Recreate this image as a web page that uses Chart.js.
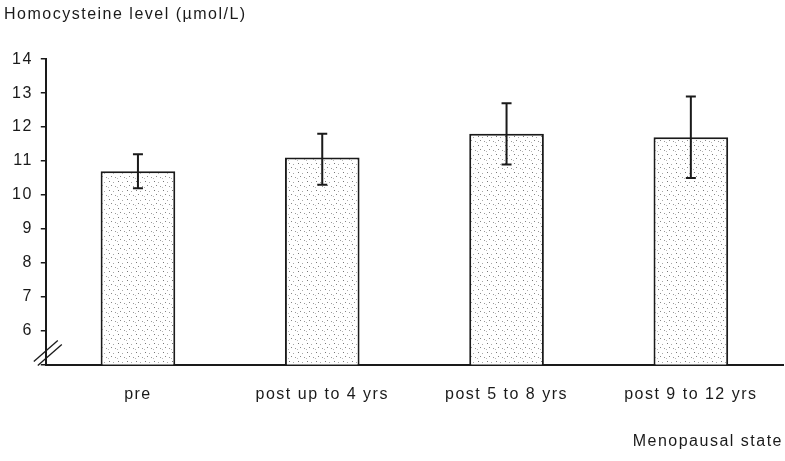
<!DOCTYPE html>
<html>
<head>
<meta charset="utf-8">
<script src="https://cdn.jsdelivr.net/npm/chart.js@4/dist/chart.umd.min.js"></script>
<style>
  html, body { margin: 0; padding: 0; background: #fff; }
  #wrap { width: 785px; height: 461px; position: relative; }
</style>
</head>
<body>
<div id="wrap"><canvas id="homocysteineChart"></canvas></div>
<script>
const categories = ["pre", "post up to 4 yrs", "post 5 to 8 yrs", "post 9 to 12 yrs"];
const meanLevels = [10.7, 11.1, 11.8, 11.7];
const errorLow = [10.2, 10.3, 10.9, 10.5];
const errorHigh = [11.2, 11.8, 12.7, 12.9];
const yTicks = [6, 7, 8, 9, 10, 11, 12, 13, 14];

const FONT = "'Liberation Sans', Arial, sans-serif";
const INK = "#1a1a1a";

// stipple fill like the printed figure
function stipplePattern() {
  const tile = document.createElement("canvas");
  tile.width = 9;
  tile.height = 9;
  const c = tile.getContext("2d");
  c.fillStyle = "#fff";
  c.fillRect(0, 0, 9, 9);
  const dots = [[1, 1, "#777"], [5, 2, "#aaa"], [3, 5, "#888"], [7, 6, "#999"], [0, 7, "#bbb"]];
  dots.forEach(([x, y, col]) => {
    c.fillStyle = col;
    c.fillRect(x, y, 1, 1);
  });
  return c.createPattern(tile, "repeat");
}

// the scanned lettering is set a bit wide
const wideText = {
  id: "wideText",
  beforeLayout(chart) { chart.ctx.letterSpacing = "1.5px"; },
  beforeDraw(chart) { chart.ctx.letterSpacing = "1.5px"; }
};

const errorBars = {
  id: "errorBars",
  afterDatasetsDraw(chart) {
    const { ctx, scales } = chart;
    const meta = chart.getDatasetMeta(0);
    ctx.save();
    ctx.strokeStyle = INK;
    ctx.lineWidth = 2;
    meta.data.forEach((bar, i) => {
      const top = scales.y.getPixelForValue(errorHigh[i]);
      const bottom = scales.y.getPixelForValue(errorLow[i]);
      ctx.beginPath();
      ctx.moveTo(bar.x, top);
      ctx.lineTo(bar.x, bottom);
      ctx.moveTo(bar.x - 5, top);
      ctx.lineTo(bar.x + 5, top);
      ctx.moveTo(bar.x - 5, bottom);
      ctx.lineTo(bar.x + 5, bottom);
      ctx.stroke();
    });
    ctx.restore();
  }
};

const axisBreak = {
  id: "axisBreak",
  afterDraw(chart) {
    const { ctx, scales } = chart;
    const x0 = scales.x.left;
    const y0 = scales.y.getPixelForValue(5);
    ctx.save();
    ctx.strokeStyle = INK;
    ctx.lineWidth = 1.3;
    [[0, 0], [4, 4]].forEach(([dx, dy]) => {
      ctx.beginPath();
      ctx.moveTo(x0 - 12 + dx, y0 - 3 + dy);
      ctx.lineTo(x0 + 12 + dx, y0 - 24 + dy);
      ctx.stroke();
    });
    ctx.restore();
  }
};

new Chart(document.getElementById("homocysteineChart"), {
  type: "bar",
  data: {
    labels: categories,
    datasets: [{
      data: meanLevels,
      backgroundColor: stipplePattern(),
      borderColor: INK,
      borderWidth: 2,
      barPercentage: 0.405,
      categoryPercentage: 1
    }]
  },
  options: {
    responsive: true,
    maintainAspectRatio: false,
    animation: false,
    layout: { padding: { left: 4, right: 2, top: 0, bottom: 10 } },
    plugins: {
      legend: { display: false },
      tooltip: { enabled: false },
      title: {
        display: true,
        text: "Homocysteine level (\u00b5mol/L)",
        align: "start",
        color: INK,
        font: { family: FONT, size: 16, weight: "normal" },
        padding: { top: 5, bottom: 35 }
      }
    },
    scales: {
      x: {
        grid: { display: false, drawTicks: false },
        border: { color: INK, width: 2 },
        ticks: { color: INK, font: { family: FONT, size: 16 }, padding: 20 },
        title: {
          display: true,
          text: "Menopausal state",
          align: "end",
          color: INK,
          font: { family: FONT, size: 16 },
          padding: { top: 8, bottom: 0 }
        }
      },
      y: {
        min: 5,
        max: 14,
        afterBuildTicks: (axis) => {
          axis.ticks = [5].concat(yTicks).map((v) => ({ value: v }));
        },
        grid: { drawOnChartArea: false, drawTicks: true, tickLength: 5, color: INK, lineWidth: 1.5 },
        border: { color: INK, width: 2 },
        ticks: {
          color: INK,
          font: { family: FONT, size: 16 },
          padding: 8,
          callback: (v) => (v === 5 ? "" : v)
        }
      }
    }
  },
  plugins: [wideText, errorBars, axisBreak]
});
</script>
</body>
</html>
